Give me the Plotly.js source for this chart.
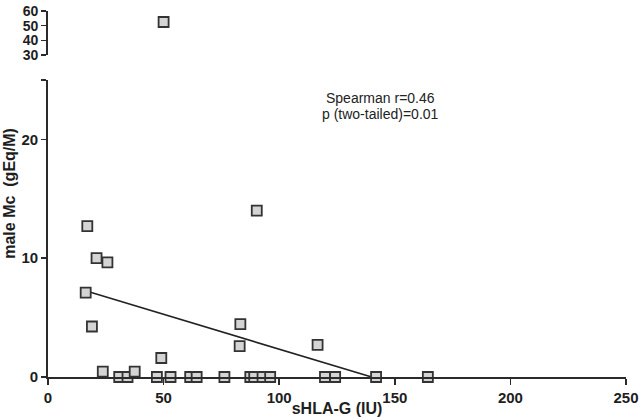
<!DOCTYPE html>
<html>
<head>
<meta charset="utf-8">
<script src="https://cdn.plot.ly/plotly-3.0.1.min.js"></script>
<style>
  html, body { margin: 0; padding: 0; background: #fff; }
  #plot { width: 641px; height: 417px; }
</style>
</head>
<body>
<div id="plot"></div>
<script>
// sHLA-G (IU) vs male Mc (gEq/M), lower part of the broken axis
var sHLAG = [17.0, 21.0, 25.7, 16.3, 19.0, 23.7, 30.8, 34.4, 37.5, 47.1, 49.0, 53.0, 61.5, 64.3,
             76.3, 83.2, 82.9, 87.5, 89.2, 92.8, 96.1, 90.3, 116.6, 119.8, 124.2, 141.9, 164.3];
var maleMc = [12.7, 10.0, 9.65, 7.1, 4.25, 0.45, 0, 0, 0.45, 0, 1.6, 0, 0, 0,
              0, 4.45, 2.6, 0, 0, 0, 0, 14.0, 2.7, 0, 0, 0, 0];

// outlier shown on the upper segment
var sHLAGHigh = [50];
var maleMcHigh = [52.5];

// regression line
var fitX = [18, 140];
var fitY = [7.15, 0];

var axisColor = "#2a2a2a";
var fontFam = "Liberation Sans, Arial, sans-serif";
var tickFont = { family: fontFam, size: 15, color: "#1e1e1e", weight: 700 };

var markerStyle = {
    symbol: "square",
    size: 10,
    color: "#d4d4d4",
    line: { color: "#333", width: 1.8 }
};

var trace1 = {
    x: sHLAG,
    y: maleMc,
    mode: "markers",
    type: "scatter",
    marker: markerStyle,
    cliponaxis: false,
    xaxis: "x",
    yaxis: "y"
};

var trace2 = {
    x: sHLAGHigh,
    y: maleMcHigh,
    mode: "markers",
    type: "scatter",
    marker: markerStyle,
    cliponaxis: false,
    xaxis: "x",
    yaxis: "y2"
};

var trace3 = {
    x: fitX,
    y: fitY,
    mode: "lines",
    type: "scatter",
    line: { color: "#222", width: 1.6 },
    xaxis: "x",
    yaxis: "y"
};

var data = [trace3, trace1, trace2];

var layout = {
    width: 641,
    height: 417,
    margin: { l: 48, r: 15, t: 11, b: 40 },
    paper_bgcolor: "#fff",
    plot_bgcolor: "#fff",
    showlegend: false,
    xaxis: {
        range: [0, 250],
        domain: [0, 1],
        anchor: "y",
        tickvals: [0, 50, 100, 150, 200, 250],
        ticks: "outside",
        ticklen: 6,
        tickwidth: 1.5,
        tickcolor: axisColor,
        showline: true,
        linecolor: axisColor,
        linewidth: 1.8,
        showgrid: false,
        zeroline: false,
        tickfont: tickFont,
        title: {
            text: "sHLA-G (IU)",
            font: { family: fontFam, size: 16, color: "#1e1e1e", weight: 700 },
            standoff: 1
        }
    },
    yaxis: {
        range: [0, 25],
        domain: [0, 0.8115],
        anchor: "x",
        tickvals: [0, 10, 20, 25],
        ticktext: ["0", "10", "20", ""],
        ticks: "outside",
        ticklen: 5,
        tickwidth: 1.5,
        tickcolor: axisColor,
        showline: true,
        linecolor: axisColor,
        linewidth: 1.8,
        showgrid: false,
        zeroline: false,
        tickfont: tickFont
    },
    yaxis2: {
        range: [30, 60],
        domain: [0.8798, 1],
        anchor: "x",
        tickvals: [30, 40, 50, 60],
        ticks: "outside",
        ticklen: 5,
        tickwidth: 1.5,
        tickcolor: axisColor,
        showline: true,
        linecolor: axisColor,
        linewidth: 1.8,
        showgrid: false,
        zeroline: false,
        tickfont: { family: fontFam, size: 14, color: "#1e1e1e", weight: 700 }
    },
    annotations: [
        {
            text: "male Mc  (gEq/M)",
            xref: "paper", yref: "paper",
            x: -0.066, y: 0.503,
            xanchor: "center", yanchor: "middle",
            textangle: -90,
            showarrow: false,
            font: { family: fontFam, size: 16, color: "#1e1e1e", weight: 700 }
        },
        {
            text: "Spearman r=0.46",
            xref: "x", yref: "y",
            x: 143.6, y: (377 - 98) / 11.9,
            xanchor: "center", yanchor: "middle",
            showarrow: false,
            font: { family: fontFam, size: 14, color: "#222" }
        },
        {
            text: "p (two-tailed)=0.01",
            xref: "x", yref: "y",
            x: 143.6, y: (377 - 114) / 11.9,
            xanchor: "center", yanchor: "middle",
            showarrow: false,
            font: { family: fontFam, size: 14, color: "#222" }
        }
    ]
};

Plotly.newPlot("plot", data, layout, { displayModeBar: false, staticPlot: true });
</script>
</body>
</html>
